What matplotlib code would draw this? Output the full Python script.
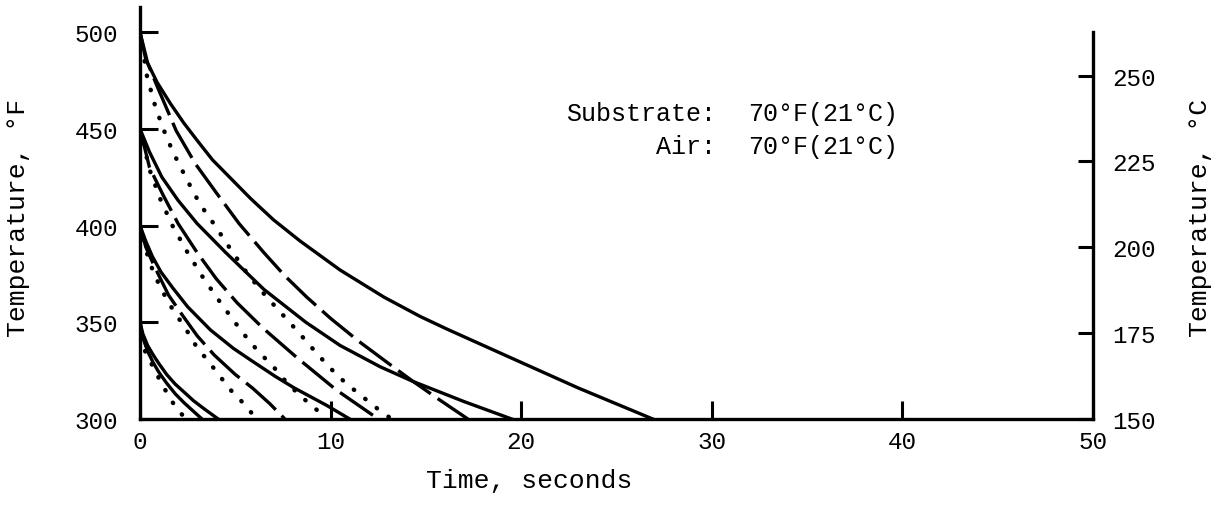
import numpy as np
import matplotlib
matplotlib.use("Agg")
import matplotlib.pyplot as plt

plt.rcParams['font.family'] = ['Liberation Mono', 'DejaVu Sans Mono']

# time (s) / temperature (F), one curve per starting temperature and line style
solid_500_t = [0, 0.3, 0.9, 1.6, 2.3, 3.0, 3.8, 4.7, 5.8, 7.0, 8.4, 10.5, 12.8, 14.7, 16.1, 19.6, 23.0, 26.9]
solid_500_T = [500, 486, 474, 463, 453, 444, 434, 425, 414, 403, 392, 377, 363, 353, 346.5, 331, 316, 300]
dashed_500_t = [0, 0.4, 0.9, 1.9, 2.9, 4.0, 5.2, 6.5, 7.6, 8.75, 10.0, 11.5, 13.0, 14.3, 15.7, 17.2]
dashed_500_T = [500, 484, 472, 449, 432, 417, 401, 386, 374, 363, 352, 340, 329, 319.6, 310, 300]
dotted_500_t = [0, 0.37, 0.79, 1.2, 1.73, 2.5, 3.15, 3.9, 4.6, 5.5, 6.3, 7.2, 8.3, 9.4, 10.4, 11.3, 12.5, 13.2]
dotted_500_T = [500, 477, 462, 450.5, 438, 423, 411, 400.5, 390, 377, 367, 357, 345, 332.5, 322, 314.5, 305, 300]

solid_450_t = [0, 0.5, 1.15, 2.0, 3.0, 4.5, 6.5, 8.7, 10.5, 12.6, 14.3, 17.0, 19.5]
solid_450_T = [450, 438, 425, 413, 401, 386, 367, 350, 338, 327, 319.5, 309, 300]
dashed_450_t = [0, 0.5, 1.2, 2.0, 3.0, 4.0, 5.1, 6.45, 8.2, 10.3, 12.5]
dashed_450_T = [450, 430, 416, 401, 386, 372.5, 360, 347, 332, 315, 300]
dotted_450_t = [0, 0.5, 1.05, 1.7, 2.5, 3.25, 4.05, 4.9, 5.6, 6.2, 7.0, 7.5, 8.4, 9.2, 9.7]
dotted_450_T = [450, 429, 414, 400, 386, 374, 362.5, 351, 342, 335, 327, 321, 312, 305.5, 300]

solid_400_t = [0, 0.3, 0.65, 1.1, 1.7, 2.5, 3.7, 4.9, 5.8, 7.1, 8.1, 9.8, 11.0]
solid_400_T = [400, 392, 384, 376, 368, 358, 346, 336.5, 330.5, 322, 316, 307, 300]
dashed_400_t = [0, 0.3, 0.75, 1.5, 2.2, 3.0, 3.9, 5.0, 5.9, 6.8, 7.6]
dashed_400_T = [400, 389, 379, 364, 354, 343, 333, 323, 316, 308, 300]
dotted_400_t = [0, 0.32, 0.66, 1.07, 1.57, 2.1, 2.5, 3.05, 3.5, 4.2, 4.8, 5.25, 5.7, 6.1]
dotted_400_T = [400, 387, 377, 368, 359, 351, 345, 336, 331, 322, 314.5, 310, 305, 300]

solid_350_t = [0, 0.15, 0.4, 0.7, 1.0, 1.4, 1.85, 2.3, 2.8, 3.4, 4.1]
solid_350_T = [350, 344, 338, 333, 328.5, 323, 318, 314, 309.5, 305, 300]
dashed_350_t = [0, 0.15, 0.4, 0.7, 1.0, 1.4, 1.85, 2.3, 2.8, 3.25]
dashed_350_T = [350, 342, 335, 329, 324, 318.5, 313, 308.5, 304, 300]
dotted_350_t = [0, 0.1, 0.3, 0.63, 1.15, 1.68, 2.1, 2.4]
dotted_350_T = [350, 341, 334, 328, 318, 309, 303.5, 300]

x_ticks = [0, 10, 20, 30, 40, 50]
yF_ticks = [300, 350, 400, 450, 500]
yC_ticks = [150, 175, 200, 225, 250]

fig = plt.figure(figsize=(12.27, 5.06), dpi=100)
ax = fig.add_axes([0.1141, 0.170, 0.7767, 0.8142])

dash = (0, (12, 2.5))
dot = (0, (0.1, 3.2))
curves = [
    (solid_500_t, solid_500_T, '-'), (dashed_500_t, dashed_500_T, dash), (dotted_500_t, dotted_500_T, dot),
    (solid_450_t, solid_450_T, '-'), (dashed_450_t, dashed_450_T, dash), (dotted_450_t, dotted_450_T, dot),
    (solid_400_t, solid_400_T, '-'), (dashed_400_t, dashed_400_T, dash), (dotted_400_t, dotted_400_T, dot),
    (solid_350_t, solid_350_T, '-'), (dashed_350_t, dashed_350_T, '-'), (dotted_350_t, dotted_350_T, dot),
]
for t, T, ls in curves:
    if ls is dot:
        ax.plot(t, T, color='black', lw=3.2, linestyle=ls, dash_capstyle='round')
    else:
        ax.plot(t, T, color='black', lw=2.4, linestyle=ls, solid_joinstyle='round')

ax.set_xlim(0, 50)
ax.set_ylim(300, 513)
ax.set_xticks(x_ticks)
ax.set_yticks(yF_ticks)

ax2 = ax.twinx()
ax2.set_ylim(150, 270)
ax2.set_yticks(yC_ticks)

for a in (ax, ax2):
    for s in a.spines.values():
        s.set_linewidth(2.4)
    a.spines['top'].set_visible(False)
ax2.spines['right'].set_bounds(150, 262.8)
ax2.spines['left'].set_visible(False)
ax2.spines['bottom'].set_visible(False)
ax.spines['right'].set_visible(False)

ax.tick_params(axis='x', direction='in', length=13, width=2.2, labelsize=17.5, pad=8)
ax.tick_params(axis='y', direction='in', length=13, width=2.2, labelsize=17.5, pad=16)
ax2.tick_params(axis='y', direction='in', length=11, width=2.2, labelsize=17.5, pad=14)

ax.set_xlabel('Time, seconds', fontsize=19)
ax.xaxis.set_label_coords(0.408, -0.12)
ax.set_ylabel('Temperature, °F', fontsize=19)
ax.yaxis.set_label_coords(-0.115, 0.49)
ax2.set_ylabel('Temperature, °C', fontsize=19)
ax2.yaxis.set_label_coords(1.1, 0.49)

ax.text(30.2, 458, 'Substrate:', fontsize=18, ha='right', va='center')
ax.text(31.9, 458, '70°F(21°C)', fontsize=18, ha='left', va='center')
ax.text(30.2, 441, 'Air:', fontsize=18, ha='right', va='center')
ax.text(31.9, 441, '70°F(21°C)', fontsize=18, ha='left', va='center')

fig.savefig('out.png', dpi=100)
